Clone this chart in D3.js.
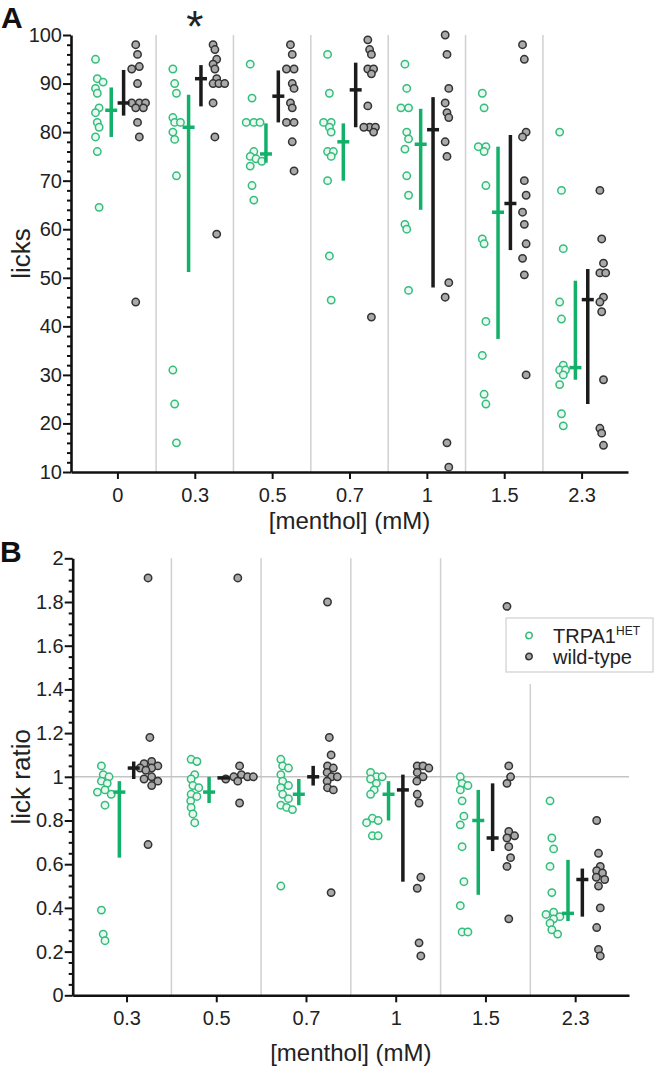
<!DOCTYPE html>
<html>
<head>
<meta charset="utf-8">
<script src="https://cdn.jsdelivr.net/npm/d3@7"></script>
<style>
  body { margin: 0; background: #fff; }
  text { font-family: "Liberation Sans", Arial, sans-serif; }
</style>
</head>
<body>
<svg id="chart" width="656" height="1066"></svg>
<script>
// ---- data ----
const concA = ["0", "0.3", "0.5", "0.7", "1", "1.5", "2.3"];
const concB = ["0.3", "0.5", "0.7", "1", "1.5", "2.3"];

// panel A: licks per animal
const licksHet = [
  [95, 91, 90.3, 89, 88, 85, 84, 82, 81, 79, 76, 64.5],
  [93, 90, 88, 83, 82, 82, 80, 78.5, 71, 31, 24, 16],
  [94, 87, 82, 82, 82, 76, 75, 74.5, 74, 73, 69, 66],
  [96, 88, 82, 82, 81, 80, 76, 76, 75, 70, 54.5, 45.4],
  [94, 89, 85, 85, 80, 78.6, 76.5, 71, 67, 61, 60, 47.4],
  [88, 85, 77, 77, 76, 69, 58, 57, 41, 34, 26, 24],
  [80, 68, 56, 45, 41.5, 32, 31, 31, 30, 28, 22, 19.5]
];
const licksWt = [
  [98, 96, 93.5, 93, 90, 86, 86, 86, 85, 85, 82, 79, 45],
  [98, 97, 95, 94, 93, 91, 90, 90, 90, 86, 79, 59],
  [98, 96, 93, 93, 90, 89, 86, 85, 82, 82, 78, 72],
  [99, 97, 96, 93, 93, 92, 85.4, 81, 81, 81, 80, 41.9],
  [100, 96, 89, 86, 84, 83, 78, 75, 49, 46, 16, 11],
  [98, 95, 80, 79, 70, 67, 63.5, 61, 57, 54, 50.6, 30],
  [68, 58, 53, 51, 51, 46, 45, 43, 29, 19, 18, 15.5]
];
// [median, lower, upper]
const licksHetSummary = [[84.5, 79, 89.2], [81, 51.2, 87.7], [75.5, 73.7, 81.8], [78, 70, 81.8],
  [77.5, 64, 84.8], [63.5, 37.4, 77], [31.5, 29, 49.4]];
const licksWtSummary = [[86, 83.4, 92.8], [91, 85.3, 93.8], [87.4, 82, 92.7], [88.7, 81, 94.3],
  [80.5, 48, 87.2], [65.3, 55.7, 79.4], [45.5, 24, 51.8]];

// panel B: lick ratio
const ratioHet = [
  [1.05, 1.01, 1.0, 0.98, 0.97, 0.94, 0.93, 0.92, 0.87, 0.39, 0.28, 0.25],
  [1.08, 1.07, 1.01, 0.99, 0.96, 0.95, 0.92, 0.91, 0.89, 0.86, 0.83, 0.79],
  [1.08, 1.05, 1.04, 1.01, 0.98, 0.96, 0.95, 0.92, 0.90, 0.87, 0.86, 0.85, 0.50],
  [1.02, 1.0, 1.0, 0.99, 0.97, 0.94, 0.92, 0.81, 0.80, 0.79, 0.73, 0.73],
  [1.0, 0.97, 0.96, 0.94, 0.89, 0.82, 0.78, 0.68, 0.52, 0.41, 0.29, 0.29],
  [0.89, 0.72, 0.67, 0.59, 0.47, 0.38, 0.37, 0.36, 0.35, 0.33, 0.30, 0.28]
];
const ratioWt = [
  [1.91, 1.18, 1.07, 1.06, 1.05, 1.04, 1.04, 1.03, 1.0, 0.99, 0.98, 0.96, 0.69],
  [1.91, 1.05, 1.01, 1.0, 1.0, 1.0, 0.99, 0.99, 0.99, 0.98, 0.88],
  [1.80, 1.18, 1.10, 1.05, 1.04, 1.02, 1.0, 1.0, 0.98, 0.95, 0.94, 0.47],
  [1.05, 1.05, 1.04, 1.02, 1.0, 0.98, 0.92, 0.88, 0.54, 0.49, 0.24, 0.18],
  [1.78, 1.05, 1.0, 0.97, 0.75, 0.73, 0.72, 0.68, 0.63, 0.59, 0.35],
  [0.80, 0.65, 0.59, 0.57, 0.56, 0.54, 0.53, 0.50, 0.40, 0.31, 0.21, 0.18]
];
const ratioHetSummary = [[0.93, 0.63, 0.98], [0.93, 0.88, 1.0], [0.92, 0.87, 0.99], [0.92, 0.80, 0.98],
  [0.80, 0.46, 0.94], [0.375, 0.34, 0.62]];
const ratioWtSummary = [[1.04, 0.99, 1.07], [0.995, 0.99, 1.0], [1.0, 0.96, 1.05], [0.94, 0.52, 1.01],
  [0.72, 0.66, 0.97], [0.53, 0.36, 0.58]];

const legendLabels = ["TRPA1", "wild-type"];
const significant = ["0.3"]; // groups marked with *

// ---- style ----
const GREEN = "#13b06a", GREEN_PT = "#34bd7d", GREEN_FILL = "#ebf8f1";
const DARK = "#1b1b1b", DARK_PT = "#333", GRAY_FILL = "#a9a9a9";
const R = 3.7;

const svg = d3.select("#chart");
svg.append("rect").attr("width", 656).attr("height", 1066).attr("fill", "#fff");

// compact dodge: circles may overlap a bit, like the original scatter
function dodge(vals, cx, y) {
  const placed = [];
  vals.slice().sort((a, b) => b - a).forEach((v, k) => {
    const py = y(v);
    const base = ((k % 3) - 1) * 1.8;
    for (const s of [0, 1, -1, 2, -2, 3, -3]) {
      const px = cx + base + s * 4;
      if (placed.every(p => Math.hypot(p.x - px, p.y - py) > 5)) {
        placed.push({x: px, y: py});
        break;
      }
    }
  });
  return placed;
}

function drawPanel(o) {
  const g = svg.append("g");
  const n = o.cats.length;
  const x = d3.scaleLinear().domain([-0.6, n - 0.4]).range([o.left, o.right]);
  const y = d3.scaleLinear().domain(o.domain).range([o.bottom, o.top]);
  const band = x(1) - x(0);

  // group separators
  g.selectAll(".sep").data(d3.range(n - 1)).join("line")
    .attr("x1", i => x(i + 0.5)).attr("x2", i => x(i + 0.5))
    .attr("y1", i => (o.legend && x(i + 0.5) > o.legend.x && x(i + 0.5) < o.legend.x + o.legend.w)
      ? o.legend.y + o.legend.h + 12 : o.top)
    .attr("y2", o.bottom)
    .attr("stroke", "#d0d0d0").attr("stroke-width", 1.5);

  if (o.refLine != null) {
    g.append("line").attr("x1", o.left).attr("x2", o.right)
      .attr("y1", y(o.refLine)).attr("y2", y(o.refLine))
      .attr("stroke", "#c4c4c4").attr("stroke-width", 1.5);
  }

  const series = [
    {vals: o.het, sum: o.hetSum, off: -0.26, bar: -0.08, stroke: GREEN_PT, fill: GREEN_FILL, col: GREEN},
    {vals: o.wt, sum: o.wtSum, off: 0.26, bar: 0.08, stroke: DARK_PT, fill: GRAY_FILL, col: DARK}
  ];

  series.forEach(s => {
    s.vals.forEach((vals, i) => {
      const pts = dodge(vals, x(i) + s.off * band, y);
      g.append("g").selectAll("circle").data(pts).join("circle")
        .attr("cx", d => d.x).attr("cy", d => d.y).attr("r", R)
        .attr("fill", s.fill).attr("stroke", s.stroke).attr("stroke-width", 1.5);
    });
  });

  series.forEach(s => {
    const bars = g.append("g").selectAll("g").data(s.sum).join("g")
      .attr("transform", (d, i) => `translate(${x(i) + s.bar * band},0)`);
    bars.append("line").attr("y1", d => y(d[1])).attr("y2", d => y(d[2]))
      .attr("stroke", s.col).attr("stroke-width", 3.5);
    bars.append("line").attr("x1", -6).attr("x2", 6)
      .attr("y1", d => y(d[0])).attr("y2", d => y(d[0]))
      .attr("stroke", s.col).attr("stroke-width", 3.5);
  });

  // axes
  const yg = g.append("g").attr("transform", `translate(${o.left},0)`)
    .call(d3.axisLeft(y).tickValues(o.major).tickSize(8).tickSizeOuter(0).tickPadding(1).tickFormat(o.fmt));
  g.append("g").attr("transform", `translate(${o.left},0)`)
    .call(d3.axisLeft(y).tickValues(o.minor).tickSize(4).tickFormat(""))
    .call(a => a.select(".domain").remove());
  const xg = g.append("g").attr("transform", `translate(0,${o.bottom})`)
    .call(d3.axisBottom(x).tickValues(d3.range(n)).tickFormat(i => o.cats[i])
      .tickSize(7).tickSizeOuter(0).tickPadding(9));
  g.selectAll(".tick line").attr("stroke", "#111").attr("stroke-width", 2);
  [yg, xg].forEach(a => {
    a.select(".domain").attr("stroke", "#111").attr("stroke-width", 2.6);
    a.selectAll("text").attr("font-size", 20).attr("fill", "#222")
      .attr("font-family", "'Liberation Sans', Arial, sans-serif");
  });

  g.append("text").attr("x", (o.left + o.right) / 2).attr("y", o.xTitleY)
    .attr("text-anchor", "middle").attr("font-size", 24).attr("fill", "#222")
    .text("[menthol] (mM)");
  g.append("text").attr("transform", `translate(${o.yTitleX},${(o.top + o.bottom) / 2}) rotate(-90)`)
    .attr("text-anchor", "middle").attr("font-size", 26).attr("fill", "#222")
    .text(o.yTitle);
  g.append("text").attr("x", o.letterX).attr("y", o.letterY)
    .attr("font-size", 30).attr("font-weight", "bold").attr("fill", "#111").text(o.letter);

  return {x, y, g};
}

const pa = drawPanel({
  cats: concA, het: licksHet, wt: licksWt, hetSum: licksHetSummary, wtSum: licksWtSummary,
  left: 71, right: 628, top: 35, bottom: 472, domain: [10, 100],
  major: d3.range(10, 101, 10), minor: d3.range(12, 100, 2).filter(v => v % 10 !== 0),
  fmt: d => d, yTitle: "licks", yTitleX: 30, xTitleY: 529,
  letter: "A", letterX: 1, letterY: 28
});

// significance mark
pa.g.selectAll(".star").data(significant).join("text")
  .attr("x", d => pa.x(concA.indexOf(d))).attr("y", 42)
  .attr("text-anchor", "middle").attr("font-size", 44).attr("fill", "#222").text("*");

const legend = {x: 506, y: 618, w: 147, h: 54};
const pb = drawPanel({
  cats: concB, het: ratioHet, wt: ratioWt, hetSum: ratioHetSummary, wtSum: ratioWtSummary,
  left: 72.7, right: 629, top: 558.3, bottom: 995.3, domain: [0, 2],
  major: d3.range(0, 11).map(k => k / 5), minor: d3.range(0, 41).filter(k => k % 4 !== 0).map(k => k / 20),
  fmt: d3.format("~g"), yTitle: "lick ratio", yTitleX: 30, xTitleY: 1061, refLine: 1,
  letter: "B", letterX: 0, letterY: 562, legend
});

// legend
const lg = svg.append("g").attr("transform", `translate(${legend.x},${legend.y})`);
lg.append("rect").attr("width", legend.w).attr("height", legend.h)
  .attr("fill", "#fff").attr("stroke", "#cfcfcf").attr("stroke-width", 1.2);
const items = lg.selectAll("g").data(legendLabels).join("g")
  .attr("transform", (d, i) => `translate(0,${17.5 + i * 21})`);
items.append("circle").attr("cx", 23).attr("cy", 0).attr("r", 3.2)
  .attr("fill", (d, i) => i ? GRAY_FILL : "#fff")
  .attr("stroke", (d, i) => i ? DARK_PT : GREEN_PT).attr("stroke-width", 1.5);
const lt = items.append("text").attr("x", 47).attr("y", 7.5).attr("font-size", 20).attr("fill", "#222");
lt.append("tspan").text(d => d);
lt.filter((d, i) => i === 0).append("tspan").attr("dy", -8).attr("font-size", 12).text("HET");
</script>
</body>
</html>
